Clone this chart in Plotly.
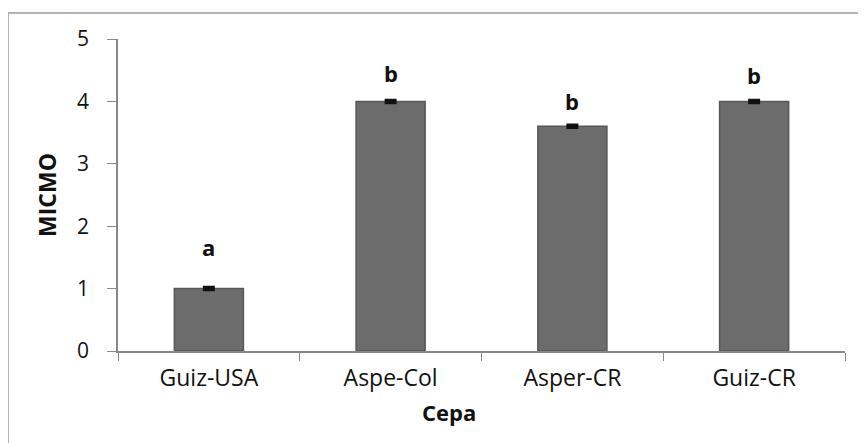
import plotly.graph_objects as go

categories = ["Guiz-USA", "Aspe-Col", "Asper-CR", "Guiz-CR"]
micmo = [1.0, 4.0, 3.6, 4.0]
errors = [0.02, 0.02, 0.02, 0.02]
letters = ["a", "b", "b", "b"]

letter_shift = [40, 27, 24, 25]

# page body adds an 8px margin, so the figure is laid out in page coords minus 8
W, H = 858, 435
ml, mr, mt, mb = 110, 21, 31, 92
pw = W - ml - mr
ph = H - mt - mb
FONT = "Open Sans, sans-serif"


def px(x):
    return (x - 8 - ml) / pw


def py(y):
    return 1 - (y - 8 - mt) / ph


fig = go.Figure()
fig.add_trace(go.Bar(
    x=categories, y=micmo,
    marker=dict(color="#6c6c6c", line=dict(color="#575757", width=1.5)),
    error_y=dict(type="data", array=errors, visible=True, color="#111111", thickness=3, width=6),
    width=0.38,
))

for c, v, e, lt, s in zip(categories, micmo, errors, letters, letter_shift):
    fig.add_annotation(x=c, y=v + e, text="<b>" + lt + "</b>", showarrow=False,
                       yshift=s, font=dict(family=FONT, size=22, color="#111"))

# axis titles
fig.add_annotation(xref="paper", yref="paper", x=px(449), y=py(412), text="<b>Cepa</b>",
                   xanchor="center", yanchor="middle",
                   showarrow=False, font=dict(family=FONT, size=22, color="#111"))
fig.add_annotation(xref="paper", yref="paper", x=px(47), y=0.5, text="<b>MICMO</b>",
                   xanchor="center", yanchor="middle",
                   textangle=-90, showarrow=False, font=dict(family=FONT, size=23, color="#111"))

# outer frame
fig.add_shape(type="rect", xref="paper", yref="paper",
              x0=px(8), x1=px(900), y0=py(480), y1=py(13),
              line=dict(color="#9a9a9a", width=1.5), fillcolor="rgba(0,0,0,0)", layer="below")

fig.update_layout(
    width=W, height=H,
    margin=dict(l=ml, r=mr, t=mt, b=mb),
    paper_bgcolor="white", plot_bgcolor="white",
    showlegend=False,
    font=dict(family=FONT, color="#111"),
    xaxis=dict(
        tickson="boundaries", ticks="outside", ticklen=8, tickcolor="#888",
        showline=True, linecolor="#888", linewidth=1.5,
        tickfont=dict(size=23, color="#111"), ticklabelstandoff=6,
        showgrid=False, automargin=False,
    ),
    yaxis=dict(
        range=[0, 5], dtick=1, ticks="outside", ticklen=9, tickcolor="#888",
        showline=True, linecolor="#888", linewidth=1.5,
        tickfont=dict(size=21, color="#111"), ticklabelstandoff=14,
        showgrid=False, zeroline=False, automargin=False,
    ),
)

fig.write_html("out.html")
